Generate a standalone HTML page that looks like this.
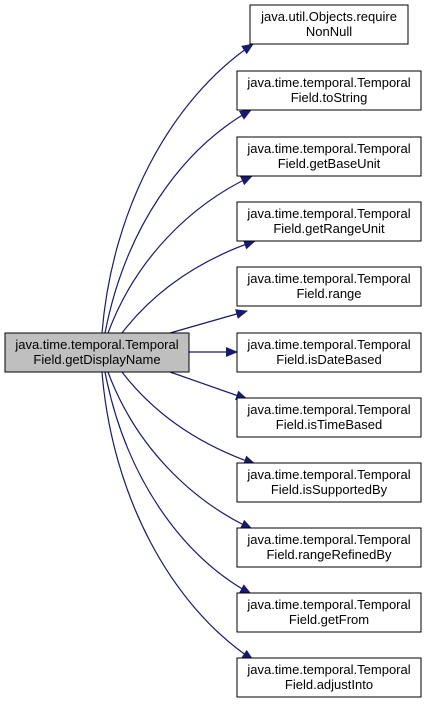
<!DOCTYPE html>
<html><head><style>
html,body{margin:0;padding:0;background:#fff;}
svg{display:block;}
text{font-family:"Liberation Sans",Arial,sans-serif;font-size:13px;fill:#000;}
</style></head><body>
<svg width="427" height="705" viewBox="0 0 427 705" xmlns="http://www.w3.org/2000/svg">
<defs>
<marker id="a" markerWidth="12" markerHeight="10" refX="11" refY="5" orient="auto" markerUnits="userSpaceOnUse">
<path d="M0,0 L12,5 L0,10 z" fill="#191970"/>
</marker>
</defs>
<g fill="none" stroke="#191970" stroke-width="1.2" marker-end="url(#a)">
<path d="M102,333 C112,210 170,100 253,44"/>
<path d="M105,333 C125,230 180,150 251,110"/>
<path d="M108,333 C135,260 190,205 252,176"/>
<path d="M122,333 C155,290 200,260 255,241"/>
<path d="M170,333 L247,311"/>
<path d="M189,352 L237,352"/>
<path d="M170,372 L247,399"/>
<path d="M122,372 C155,415 200,445 255,464"/>
<path d="M108,372 C135,445 190,500 252,529"/>
<path d="M105,372 C125,475 180,555 251,594"/>
<path d="M102,372 C112,495 170,605 253,660"/>
</g>
<rect x="5" y="333" width="184" height="39" fill="#bfbfbf" stroke="#000"/>
<text x="97" y="349" text-anchor="middle">java.time.temporal.Temporal</text>
<text x="97" y="364" text-anchor="middle">Field.getDisplayName</text>
<g fill="#fff" stroke="#000">
<rect x="250" y="5" width="158" height="39"/>
<rect x="237" y="71" width="184" height="39"/>
<rect x="237" y="137" width="184" height="39"/>
<rect x="237" y="202" width="184" height="39"/>
<rect x="237" y="267" width="184" height="39"/>
<rect x="237" y="333" width="184" height="39"/>
<rect x="237" y="398" width="184" height="39"/>
<rect x="237" y="463" width="184" height="39"/>
<rect x="237" y="528" width="184" height="39"/>
<rect x="237" y="593" width="184" height="39"/>
<rect x="237" y="658" width="184" height="39"/>
</g>
<g text-anchor="middle">
<text x="329" y="21">java.util.Objects.require</text><text x="329" y="36">NonNull</text>
<text x="329" y="87">java.time.temporal.Temporal</text><text x="329" y="102">Field.toString</text>
<text x="329" y="153">java.time.temporal.Temporal</text><text x="329" y="168">Field.getBaseUnit</text>
<text x="329" y="218">java.time.temporal.Temporal</text><text x="329" y="233">Field.getRangeUnit</text>
<text x="329" y="283">java.time.temporal.Temporal</text><text x="329" y="298">Field.range</text>
<text x="329" y="349">java.time.temporal.Temporal</text><text x="329" y="364">Field.isDateBased</text>
<text x="329" y="414">java.time.temporal.Temporal</text><text x="329" y="429">Field.isTimeBased</text>
<text x="329" y="479">java.time.temporal.Temporal</text><text x="329" y="494">Field.isSupportedBy</text>
<text x="329" y="544">java.time.temporal.Temporal</text><text x="329" y="559">Field.rangeRefinedBy</text>
<text x="329" y="609">java.time.temporal.Temporal</text><text x="329" y="624">Field.getFrom</text>
<text x="329" y="674">java.time.temporal.Temporal</text><text x="329" y="689">Field.adjustInto</text>
</g>
</svg>
</body></html>
